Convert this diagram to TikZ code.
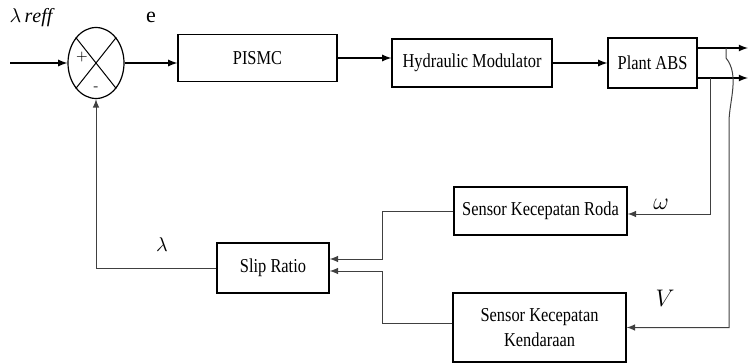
\documentclass[tikz,border=0pt]{standalone}
\usepackage{amsmath}
\usepackage{graphicx}
\usepackage{fontspec}
\setmainfont{Liberation Serif}
\usepackage{tikz}
\usetikzlibrary{shapes.geometric}

% box text is set narrow and tall
\newcommand{\tallt}[1]{\scalebox{1}[1.2]{#1}}

\begin{document}
\begin{tikzpicture}[x=0.5pt,y=-0.5pt,
  block/.style={draw,line width=0.6pt,inner sep=0pt,font=\fontsize{8.2}{10}\selectfont},
  sumnode/.style={draw,ellipse,line width=0.6pt,minimum width=28pt,minimum height=35.5pt,inner sep=0pt},
  fw/.style={-latex,line width=0.6pt},
  fb/.style={-latex,line width=0.5pt,black!75}]
\useasboundingbox (0,0) rectangle (748,363);
% forward path
\node[sumnode] (sum) at (96,63) {};
\draw[line width=0.5pt] (sum.north west) -- (sum.south east)
  (sum.north east) -- (sum.south west);
\node[font=\fontsize{7}{8}\sffamily] (plus) at (82,57) {+};
\node[font=\fontsize{7}{8}\sffamily] (minus) at (96,89) {-};
\node[block,minimum width=79.5pt,minimum height=23.5pt] (pismc) at (257.5,58) {\tallt{PISMC}};
\node[block,minimum width=80pt,minimum height=24pt] (hyd) at (472,63) {\tallt{Hydraulic Modulator}};
\node[block,minimum width=44.5pt,minimum height=25pt] (plant) at (652.5,63) {\tallt{Plant ABS}};
% feedback path
\node[block,minimum width=86.5pt,minimum height=24pt] (roda) at (540.5,211) {\tallt{Sensor Kecepatan Roda}};
\node[block,minimum width=86.5pt,minimum height=34.5pt,align=center,
  font=\fontsize{8.2}{12.5}\selectfont] (kend) at (539.5,327.5) {\tallt{Sensor Kecepatan}\\\tallt{Kendaraan}};
\node[block,minimum width=56pt,minimum height=25pt] (slip) at (273,268) {\tallt{Slip Ratio}};
% labels
\node[font=\fontsize{10}{12}\selectfont] (lref) at (31,18) {$\lambda\,\mathit{reff}$};
\node[font=\fontsize{11}{12}\selectfont] (e) at (151,17) {e};
\node[font=\fontsize{10}{12}\selectfont] (lam) at (162,245) {$\lambda$};
\node[font=\fontsize{12}{14}\selectfont] (om) at (661,204) {$\omega$};
\node[font=\fontsize{12}{14}\selectfont] (vel) at (665,298) {$V$};
% connectors
\coordinate (in) at (10,63);
\coordinate (o1) at (748,48);
\coordinate (o2) at (748,78);
\coordinate (t1) at (726,48);
\coordinate (t2) at (710,78);
\draw[fw] (in) -- (sum);
\draw[fw] (sum) -- (sum -| pismc.west);
\draw[fw] (pismc.east) -- (pismc.east -| hyd.west);
\draw[fw] (hyd) -- (plant);
\draw[fw] (plant.east |- o1) -- (o1);
\draw[fw] (plant.east |- o2) -- (o2);
\draw[fb] (t2) |- ([yshift=-1.5pt]roda.east);
\draw[fb] (t1) -- ++(0,10) .. controls ++(14,17) and ++(0,-20) .. ++(3,64) |- (kend.east);
\draw[fb] (roda.west) -- ++(-71,0) |- ([yshift=4.5pt]slip.east);
\draw[fb] ([yshift=2pt]kend.west) -- ++(-70,0) |- ([yshift=-1.5pt]slip.east);
\draw[fb] (slip.west) -| (sum.south);
\end{tikzpicture}
\end{document}
